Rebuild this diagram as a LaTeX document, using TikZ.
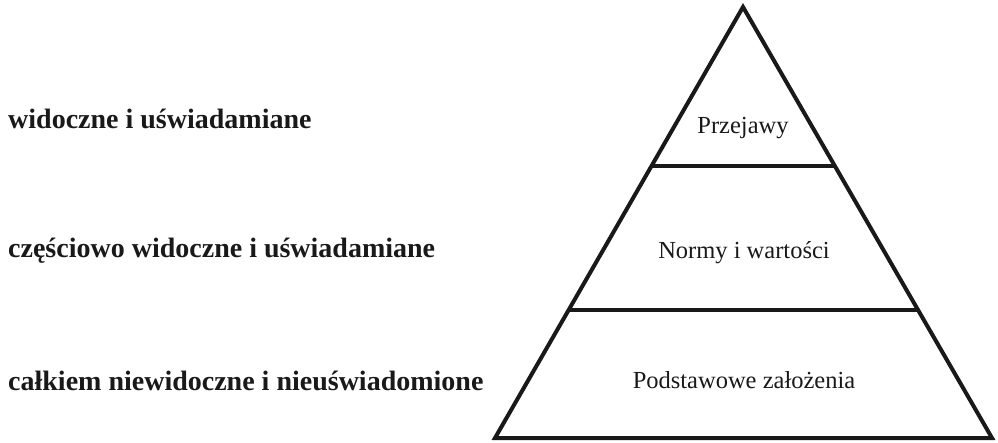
\documentclass[tikz,border=0pt]{standalone}
\usepackage{fontspec}
\setmainfont{Liberation Serif}
\usetikzlibrary{calc}
\begin{document}
\begin{tikzpicture}[x=1pt,y=-1pt,
  edge/.style={line width=4pt,line join=miter,color=black!90},
  level/.style={font=\fontsize{28}{32}\selectfont\bfseries,anchor=base west,inner sep=0pt,text=black!90},
  layer/.style={font=\fontsize{24.5}{28}\selectfont,anchor=base,inner sep=0pt,text=black!90}]
  \useasboundingbox (0,0) rectangle (998,442);
  % pyramid corners and dividing points
  \coordinate (top) at (743,7);
  \coordinate (bl) at (495,438);
  \coordinate (br) at (992,438);
  \coordinate (l1) at ($(top)!0.369!(bl)$);
  \coordinate (r1) at ($(top)!0.369!(br)$);
  \coordinate (l2) at ($(top)!0.704!(bl)$);
  \coordinate (r2) at ($(top)!0.704!(br)$);
  \draw[edge] (top) -- (br) -- (bl) -- cycle;
  \draw[edge] (l1) -- (r1);
  \draw[edge] (l2) -- (r2);
  % layer names
  \node[layer] (p) at (743,133) {Przejawy};
  \node[layer] (n) at (744,258) {Normy i wartości};
  \node[layer] (z) at (744,388) {Podstawowe założenia};
  % visibility descriptions
  \node[level] (a) at (8,128) {widoczne i uświadamiane};
  \node[level] (b) at (8,257) {częściowo widoczne i uświadamiane};
  \node[level] (c) at (8,390) {całkiem niewidoczne i nieuświadomione};
\end{tikzpicture}
\end{document}
